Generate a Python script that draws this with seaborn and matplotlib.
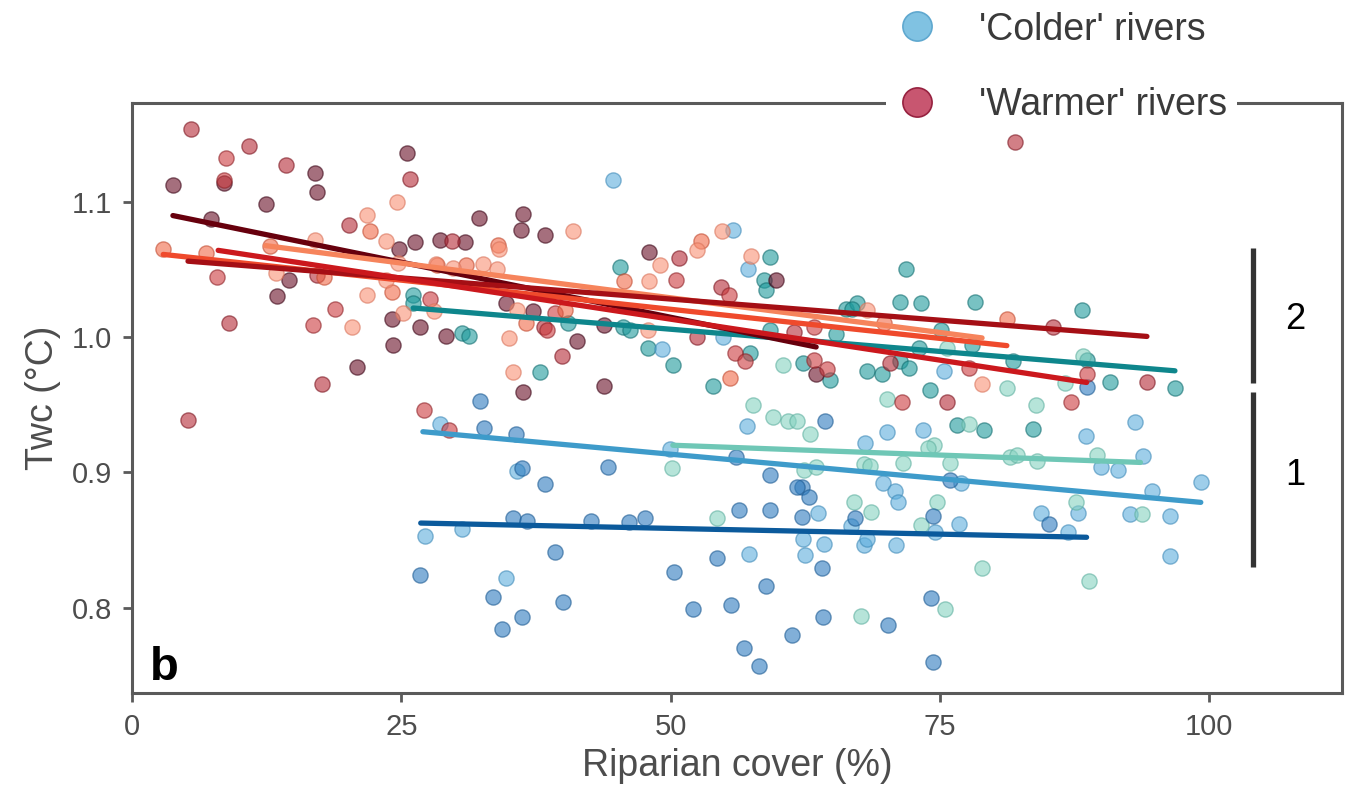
import numpy as np
import pandas as pd
import matplotlib.pyplot as plt
import seaborn as sns
from matplotlib.lines import Line2D

sns.set_theme(style="ticks")
plt.rcParams['font.family'] = ['Liberation Sans', 'DejaVu Sans']

# ---- scatter data, one pair of arrays per river ----
maroon_x = [3.8, 8.5, 17.0, 17.2, 12.4, 25.5, 7.3, 14.6, 13.5, 20.9, 24.8, 26.3, 28.6, 24.1, 24.2, 26.7,
            29.1, 32.2, 36.3, 36.1, 38.3, 30.9, 34.7, 37.2, 41.3, 36.3, 43.8, 48.0, 59.8, 63.5, 43.8]
maroon_y = [1.112, 1.114, 1.121, 1.107, 1.098, 1.136, 1.087, 1.042, 1.030, 0.978, 1.065, 1.070, 1.072, 1.013, 0.994, 1.007,
            1.001, 1.088, 1.091, 1.079, 1.075, 1.070, 1.025, 1.019, 0.997, 0.959, 0.964, 1.063, 1.042, 0.973, 1.009]

darkred_x = [5.5, 10.9, 14.3, 25.8, 20.1, 17.2, 9.0, 17.6, 29.7, 38.2, 39.9, 50.8, 54.7, 52.4, 61.4, 82.0,
             85.5, 70.4, 75.6, 94.2, 5.2]
darkred_y = [1.154, 1.141, 1.127, 1.117, 1.083, 1.046, 1.010, 0.965, 1.071, 1.007, 0.986, 1.058, 1.037, 1.000, 1.004, 1.144,
             1.007, 0.981, 0.952, 0.967, 0.939]

red_x = [8.7, 8.5, 7.9, 18.8, 16.8, 27.7, 38.5, 39.3, 27.1, 29.4, 50.5, 55.4, 56.0, 56.9, 63.3, 64.5,
         63.3, 77.7, 71.5, 87.2, 88.6]
red_y = [1.132, 1.116, 1.044, 1.021, 1.009, 1.028, 1.005, 1.018, 0.946, 0.931, 1.042, 1.031, 0.988, 0.982, 0.983, 0.976,
         1.007, 0.977, 0.952, 0.952, 0.973]

orange_x = [2.9, 6.9, 12.8, 17.8, 22.1, 24.1, 28.3, 34.0, 31.0, 36.6, 40.2, 45.7, 52.8, 55.5, 69.8, 81.2]
orange_y = [1.065, 1.062, 1.067, 1.044, 1.078, 1.033, 1.053, 1.068, 1.053, 1.010, 1.020, 1.041, 1.071, 0.970, 1.010, 1.013]

salmon_x = [13.4, 17.0, 20.4, 24.6, 21.8, 23.6, 21.8, 25.2, 28.0, 23.6, 24.7, 34.1, 28.2, 29.8, 32.6, 33.9,
            35.7, 35.0, 35.4, 40.9, 49.0, 48.0, 52.4, 54.8, 57.5, 47.9, 68.2, 78.9]
salmon_y = [1.047, 1.072, 1.007, 1.100, 1.090, 1.071, 1.031, 1.018, 1.019, 1.042, 1.055, 1.065, 1.054, 1.051, 1.054, 1.050,
            1.020, 0.999, 0.974, 1.078, 1.053, 1.041, 1.064, 1.078, 1.060, 1.005, 1.020, 0.965]

teal_x = [26.1, 26.1, 30.6, 31.3, 40.5, 37.9, 45.3, 59.2, 58.7, 58.8, 45.6, 46.2, 47.9, 50.2, 57.4, 53.9,
          59.2, 64.8, 62.3, 65.3, 66.3, 71.8, 67.3, 66.8, 71.3, 73.2, 78.2, 88.2, 75.1, 78.0, 73.0, 81.8,
          88.6, 90.8, 96.8, 68.2, 69.6, 71.3, 72.1, 74.1, 76.6, 79.1, 83.6]
teal_y = [1.031, 1.025, 1.003, 1.001, 1.010, 0.974, 1.052, 1.059, 1.042, 1.035, 1.007, 1.005, 0.992, 0.979, 0.988, 0.964,
          1.005, 0.968, 0.981, 1.002, 1.021, 1.050, 1.025, 1.021, 1.026, 1.025, 1.026, 1.020, 1.005, 0.994, 0.992, 0.982,
          0.983, 0.967, 0.962, 0.975, 0.973, 0.982, 0.977, 0.961, 0.935, 0.931, 0.932]

lightblue_x = [44.6, 55.8, 57.2, 49.2, 54.9, 75.4, 70.1, 73.4, 93.1, 88.5, 68.0, 93.8, 89.9, 91.5, 99.2, 94.7,
               69.7, 70.8, 71.1, 76.9, 63.7, 66.7, 76.8, 74.5, 84.4, 87.8, 86.9, 92.6, 96.3, 96.3, 62.3, 62.5,
               64.2, 67.9, 68.2, 70.9, 28.6, 35.7, 49.9, 57.1, 27.2, 30.6, 34.7, 57.3]
lightblue_y = [1.116, 1.079, 1.050, 0.991, 1.000, 0.975, 0.930, 0.931, 0.937, 0.927, 0.922, 0.912, 0.904, 0.902, 0.893, 0.886,
               0.892, 0.886, 0.878, 0.892, 0.870, 0.860, 0.862, 0.856, 0.870, 0.870, 0.856, 0.869, 0.868, 0.838, 0.851, 0.839,
               0.847, 0.846, 0.851, 0.846, 0.936, 0.901, 0.917, 0.934, 0.853, 0.858, 0.822, 0.840]

mint_x = [60.4, 57.6, 75.6, 88.3, 81.2, 86.6, 70.1, 83.9, 62.9, 77.7, 74.4, 73.9, 67.9, 68.5, 71.6, 75.9,
          81.5, 82.1, 84.0, 89.6, 67.0, 68.6, 74.7, 73.2, 87.6, 93.7, 78.9, 88.8, 75.5, 67.7, 50.1, 59.5,
          60.9, 61.7, 62.4, 63.5, 54.3]
mint_y = [0.979, 0.950, 0.992, 0.986, 0.962, 0.966, 0.954, 0.950, 0.928, 0.936, 0.920, 0.918, 0.906, 0.905, 0.907, 0.907,
          0.911, 0.913, 0.908, 0.913, 0.878, 0.871, 0.878, 0.861, 0.878, 0.869, 0.829, 0.820, 0.799, 0.794, 0.903, 0.941,
          0.938, 0.938, 0.902, 0.904, 0.866]

blue_x = [32.3, 64.3, 75.9, 62.2, 62.8, 62.2, 67.1, 74.3, 85.1, 64.0, 74.2, 64.1, 70.2, 74.3, 32.7, 35.6,
          36.2, 38.3, 44.2, 56.1, 59.2, 61.7, 56.3, 59.2, 35.4, 36.7, 42.6, 46.1, 47.6, 26.7, 39.3, 54.3,
          50.3, 33.5, 40.0, 36.2, 34.3, 52.1, 55.6, 58.8, 61.3, 56.8, 58.2, 88.6]
blue_y = [0.953, 0.938, 0.894, 0.889, 0.882, 0.867, 0.866, 0.868, 0.862, 0.829, 0.807, 0.793, 0.787, 0.760, 0.933, 0.928,
          0.903, 0.891, 0.904, 0.911, 0.898, 0.889, 0.872, 0.872, 0.866, 0.864, 0.864, 0.863, 0.866, 0.824, 0.841, 0.837,
          0.826, 0.808, 0.804, 0.793, 0.784, 0.799, 0.802, 0.816, 0.780, 0.770, 0.757, 0.963]

# ---- fitted lines per river: start/end x and y ----
fit_river = ['teal', 'lightblue', 'mint', 'blue', 'maroon', 'orange', 'salmon', 'darkred', 'red']
fit_x0 = [26.1, 27.0, 50.2, 26.8, 3.8, 2.9, 12.4, 5.2, 8.0]
fit_x1 = [96.8, 99.2, 93.6, 88.6, 63.5, 81.2, 78.9, 94.2, 88.6]
fit_y0 = [1.0214, 0.930, 0.920, 0.8625, 1.0897, 1.061, 1.0675, 1.056, 1.064]
fit_y1 = [0.975, 0.8778, 0.9073, 0.852, 0.9926, 0.9936, 0.9993, 1.0004, 0.9664]

groups = {
    'teal': (teal_x, teal_y), 'lightblue': (lightblue_x, lightblue_y), 'mint': (mint_x, mint_y),
    'blue': (blue_x, blue_y), 'maroon': (maroon_x, maroon_y), 'darkred': (darkred_x, darkred_y),
    'red': (red_x, red_y), 'orange': (orange_x, orange_y), 'salmon': (salmon_x, salmon_y),
}
point_col = {'teal': '#1E9A9C', 'lightblue': '#5DAEDD', 'mint': '#86D2C1', 'blue': '#2E7BBE',
             'maroon': '#6A0F27', 'darkred': '#B42A36', 'red': '#CC3B3E', 'orange': '#F06A48', 'salmon': '#F99276'}
edge_col = {'teal': '#136E70', 'lightblue': '#3F8AB8', 'mint': '#5FB0A0', 'blue': '#1D5B93',
            'maroon': '#3C0516', 'darkred': '#7C1520', 'red': '#8E2227', 'orange': '#C24A30', 'salmon': '#D9735A'}
line_col = {'teal': '#0E868C', 'lightblue': '#3E9BCA', 'mint': '#6FC7B6', 'blue': '#0B5A9C',
            'maroon': '#67000D', 'orange': '#EF4A2C', 'salmon': '#F6845C', 'darkred': '#A50F15', 'red': '#CB181D'}

# bracket annotations on the right
bracket_x = 104.0
bracket_spans = [(1.066, 0.966), (0.959, 0.830)]
bracket_labels = ['2', '1']
bracket_label_y = [1.013, 0.898]

fig = plt.figure(figsize=(13.48, 7.91), dpi=100)
ax = fig.add_axes([0.0979, 0.124, 0.8976, 0.746])

for name, (gx, gy) in groups.items():
    df = pd.DataFrame({'cover': gx, 'twc': gy})
    sns.scatterplot(data=df, x='cover', y='twc', color=point_col[name], edgecolor=edge_col[name],
                    linewidth=1.0, s=120, alpha=0.6, ax=ax, zorder=2)

fits = pd.DataFrame({
    'river': fit_river * 2,
    'cover': fit_x0 + fit_x1,
    'twc': fit_y0 + fit_y1,
})
sns.lineplot(data=fits, x='cover', y='twc', hue='river', hue_order=fit_river, palette=line_col,
             estimator=None, linewidth=3.8, legend=False, ax=ax, zorder=3)

for (top, bot), lab, ly in zip(bracket_spans, bracket_labels, bracket_label_y):
    ax.plot([bracket_x, bracket_x], [top, bot], color='#333333', linewidth=3.8, solid_capstyle='butt')
    ax.text(108.0, ly, lab, fontsize=26, color='black', ha='center', va='center')

ax.text(0.015, 0.022, 'b', transform=ax.transAxes, fontsize=34, fontweight='bold',
        color='black', ha='left', va='baseline')

ax.set_xlim(0, 112.3)
ax.set_ylim(0.737, 1.173)
ax.set_xticks([0, 25, 50, 75, 100])
ax.set_yticks([0.8, 0.9, 1.0, 1.1])
ax.set_yticklabels(['0.8', '0.9', '1.0', '1.1'])
ax.set_xlabel('Riparian cover (%)', fontsize=27, color='#4D4D4D')
ax.set_ylabel('Twc (°C)', fontsize=27, color='#4D4D4D')
ax.xaxis.set_label_coords(0.5, -0.093)
ax.yaxis.set_label_coords(-0.059, 0.5)
ax.tick_params(axis='both', length=6.5, width=2.0, color='#5A5A5A', labelsize=21,
               labelcolor='#4D4D4D', pad=8)
for sp in ax.spines.values():
    sp.set_color('#5A5A5A')
    sp.set_linewidth(2.2)

handles = [
    Line2D([], [], marker='o', linestyle='none', markersize=21, markerfacecolor='#80C2E2',
           markeredgecolor='#5FA8CF', markeredgewidth=1.2, label="'Colder' rivers"),
    Line2D([], [], marker='o', linestyle='none', markersize=21, markerfacecolor='#C85670',
           markeredgecolor='#96213F', markeredgewidth=1.2, label="'Warmer' rivers"),
]
leg = ax.legend(handles=handles, loc='center', bbox_to_anchor=(0.7875, 0.915),
                bbox_transform=fig.transFigure, fontsize=27, frameon=True, fancybox=False,
                framealpha=1, facecolor='white', edgecolor='none', handlelength=1.17,
                handletextpad=1.07, labelspacing=1.05, borderpad=0.25)
for t in leg.get_texts():
    t.set_color('#3A3A3A')

fig.savefig('out.png', dpi=100)
